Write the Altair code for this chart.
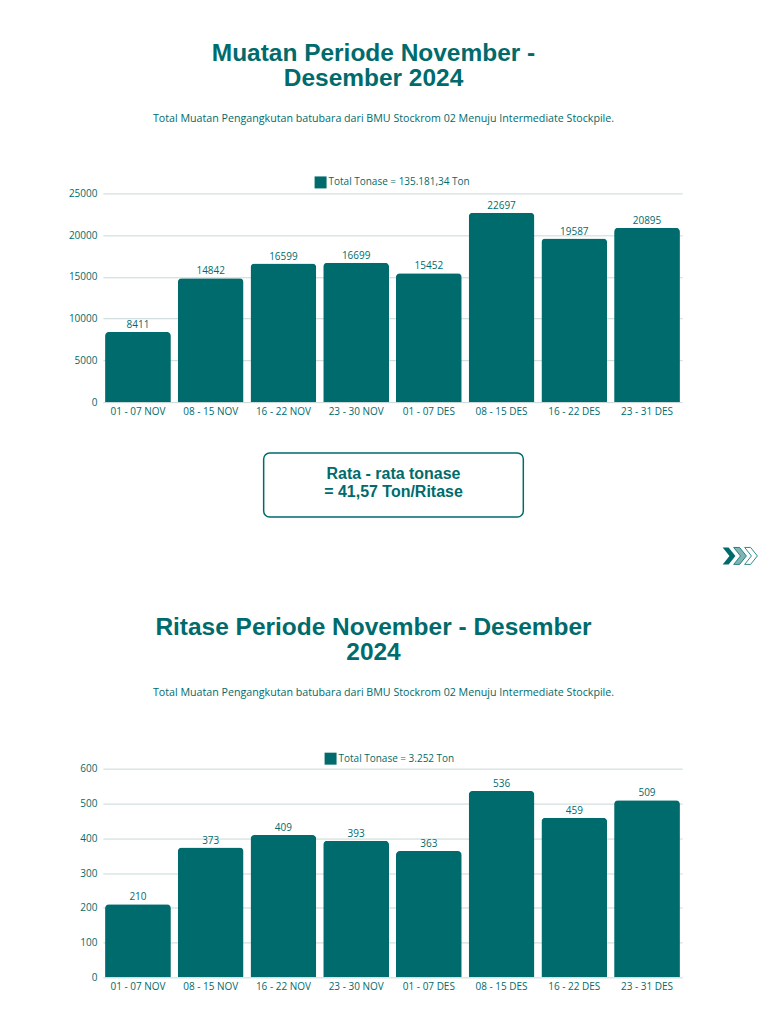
import altair as alt
import pandas as pd

# ---------------- data ----------------
periods = ["01 - 07 NOV", "08 - 15 NOV", "16 - 22 NOV", "23 - 30 NOV",
           "01 - 07 DES", "08 - 15 DES", "16 - 22 DES", "23 - 31 DES"]
muatan = [8411, 14842, 16599, 16699, 15452, 22697, 19587, 20895]
ritase = [210, 373, 409, 393, 363, 536, 459, 509]

title1 = ["Muatan Periode November -", "Desember 2024"]
title2 = ["Ritase Periode November - Desember", "2024"]
subtitle = "Total Muatan Pengangkutan batubara dari BMU Stockrom 02 Menuju Intermediate Stockpile."
legend1 = "Total Tonase = 135.181,34 Ton"
legend2 = "Total Tonase = 3.252 Ton"
box_lines = ["Rata - rata tonase", "= 41,57 Ton/Ritase"]

TEAL = "#006b6c"
GRID = "#c8d8d8"
FONT = "Open Sans"
TFONT = "Liberation Sans"

W, H = 580, 209


def text_layer(txt, x, y, size, bold=False, font=FONT, align="center"):
    return alt.Chart(pd.DataFrame({"t": [txt]})).mark_text(
        font=font, fontSize=size, fontWeight="bold" if bold else "normal",
        color=TEAL, align=align, baseline="middle"
    ).encode(text="t:N", x=alt.value(x), y=alt.value(y))


def spacer(y):
    return alt.Chart(pd.DataFrame({"a": [0]})).mark_rect(opacity=0).encode(
        x=alt.value(0), x2=alt.value(1), y=alt.value(y), y2=alt.value(y + 1))


def bar_chart(values, field, ymax, step, legend_label, legend_x, legend_y):
    df = pd.DataFrame({"period": periods, field: values, "series": legend_label})
    base = alt.Chart(df)
    xaxis = alt.Axis(labelAngle=0, labelFont=FONT, labelFontSize=10,
                     labelColor=TEAL, labelPadding=4, ticks=False, tickSize=0,
                     domain=False, grid=False, minExtent=20, maxExtent=20)
    yaxis = alt.Axis(values=list(range(0, ymax + 1, step)), format="d",
                     labelFont=FONT, labelOverlap=False,
                     labelFontSize=10, labelColor=TEAL, labelPadding=6,
                     ticks=False, tickSize=0, domain=False, grid=True,
                     gridColor=GRID, gridWidth=1, minExtent=95, maxExtent=95)
    xscale = alt.Scale(paddingInner=0.095, paddingOuter=0.03)
    yscale = alt.Scale(domain=[0, ymax], nice=False)
    xenc = alt.X("period:N", sort=periods, title=None, scale=xscale, axis=xaxis)
    yenc = alt.Y(f"{field}:Q", title=None, scale=yscale, axis=yaxis)
    bars = base.mark_bar(cornerRadiusTopLeft=4, cornerRadiusTopRight=4).encode(
        x=xenc, y=yenc,
        color=alt.Color("series:N", scale=alt.Scale(domain=[legend_label], range=[TEAL]),
                        legend=alt.Legend(title=None, orient="none", legendX=legend_x,
                                          legendY=legend_y, symbolType="square",
                                          symbolSize=144, symbolStrokeWidth=0,
                                          labelFont=FONT, labelFontSize=10,
                                          labelColor=TEAL, labelOffset=2, padding=0)))
    labels = base.mark_text(font=FONT, fontSize=10, color=TEAL, baseline="alphabetic",
                            dy=-4).encode(
        x=xenc, y=yenc, text=alt.Text(f"{field}:Q", format="d"))
    return bars, labels


bars1, labels1 = bar_chart(muatan, "muatan", 25000, 5000, legend1, 212, -17)
chart1 = alt.layer(
    spacer(-185),
    text_layer(title1[0], 271, -140, 24.5, True, TFONT),
    text_layer(title1[1], 271, -115, 24.5, True, TFONT),
    text_layer(subtitle, 281, -75, 10.7),
    bars1, labels1,
).properties(width=W, height=H)

bars2, labels2 = bar_chart(ritase, "ritase", 600, 100, legend2, 222, -16)

box = alt.Chart(pd.DataFrame({"a": [0]})).mark_rect(
    cornerRadius=6, fill="white", stroke=TEAL, strokeWidth=1.5
).encode(x=alt.value(161), x2=alt.value(421), y=alt.value(-316), y2=alt.value(-252))

chev_path = "M-0.75,-1 L-0.05,-1 L0.75,0 L-0.05,1 L-0.75,1 L0.05,0 Z"
chev1 = alt.Chart(pd.DataFrame({"a": [0]})).mark_point(
    shape=chev_path, size=289, filled=True, fill=TEAL, strokeWidth=0, opacity=1
).encode(x=alt.value(627), y=alt.value(-213))
chev2 = alt.Chart(pd.DataFrame({"a": [0]})).mark_point(
    shape=chev_path, size=289, filled=True, fill="#7fb5b5", stroke=TEAL, strokeWidth=0.8,
    opacity=1
).encode(x=alt.value(638), y=alt.value(-213))
chev3 = alt.Chart(pd.DataFrame({"a": [0]})).mark_point(
    shape=chev_path, size=289, filled=False, stroke="#2f8c8c", strokeWidth=1, opacity=1
).encode(x=alt.value(649), y=alt.value(-213))

chart2 = alt.layer(
    spacer(-347),
    box,
    text_layer(box_lines[0], 291, -295, 16, True, TFONT),
    text_layer(box_lines[1], 291, -277, 16, True, TFONT),
    chev1, chev2, chev3,
    text_layer(title2[0], 271, -141, 24.5, True, TFONT),
    text_layer(title2[1], 271, -116, 24.5, True, TFONT),
    text_layer(subtitle, 281, -76, 10.7),
    bars2, labels2,
).properties(width=W, height=H)

chart = alt.vconcat(chart1, chart2, spacing=0).resolve_scale(
    x="independent", y="independent", color="independent"
).resolve_legend(color="independent").properties(
    padding=0, background="white"
).configure_view(stroke=None)

chart.save("out.html", embed_options={"renderer": "svg", "actions": False})
